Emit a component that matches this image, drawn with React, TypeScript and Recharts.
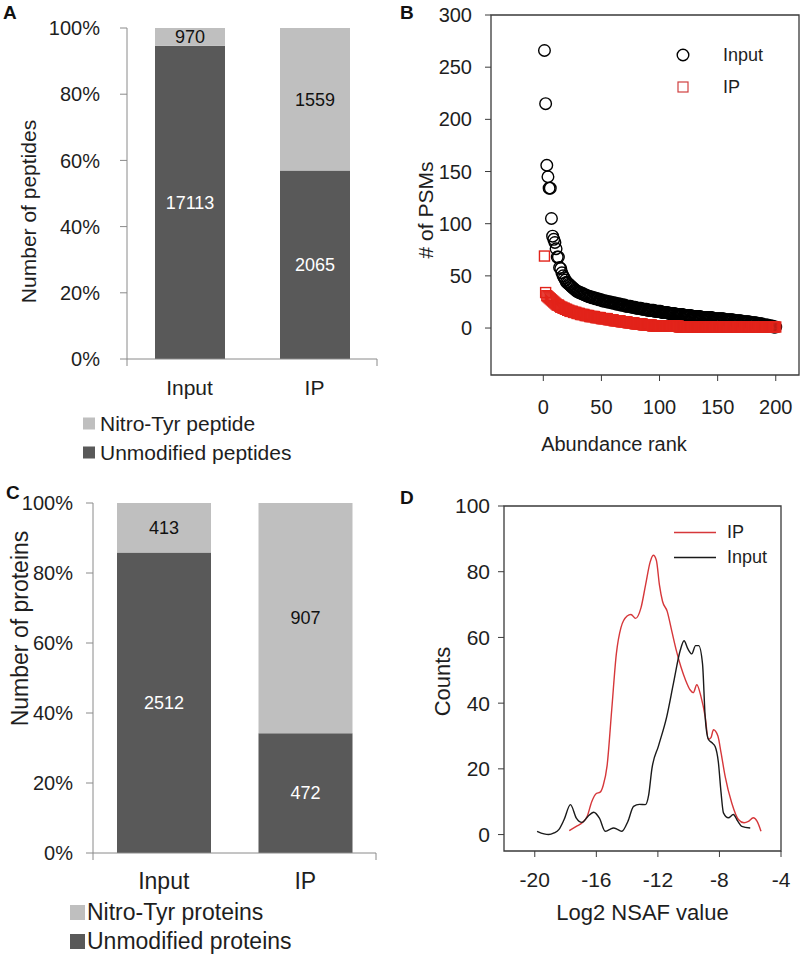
import React from "react";
import {
  Bar,
  BarChart,
  LabelList,
  Legend,
  Line,
  LineChart,
  ReferenceArea,
  Scatter,
  ScatterChart,
  XAxis,
  YAxis,
} from "recharts";

const FONT = '"Liberation Sans", Arial, Helvetica, sans-serif';
const TEXT = "#1e1e1e";
const AXIS_GRAY = "#8a8a8a";
const FRAME = "#3a3a3a";
const LIGHT = "#bfbfbf";
const DARK = "#595959";
const RED = "#e2231a";
const LINE_RED = "#d6373a";

// A / C: stacked percent bars
const groups = ["Input", "IP"];
const peptideNitro = [970, 1559];
const peptideUnmod = [17113, 2065];
const proteinNitro = [413, 907];
const proteinUnmod = [2512, 472];
const percentTicks = [0, 0.2, 0.4, 0.6, 0.8, 1];
const edgeTicks = [0, 1, 2];

// B: PSMs by abundance rank (rank = position + 1)
const inputPsms = [
  266, 215, 156, 145, 134, 134, 105, 88, 85, 82,
  76, 68, 68, 58, 57, 53, 50, 48, 46, 44,
  43, 42, 41, 40, 39, 38, 37, 36, 35, 35,
  34, 34, 33, 33, 32, 32, 31, 31, 30, 30,
  30, 29, 29, 29, 28, 28, 28, 27, 27, 27,
  26, 26, 26, 26, 25, 25, 25, 25, 24, 24,
  24, 24, 23, 23, 23, 23, 22, 22, 22, 22,
  21, 21, 21, 21, 21, 20, 20, 20, 20, 19,
  19, 19, 19, 19, 18, 18, 18, 18, 18, 17,
  17, 17, 17, 17, 17, 16, 16, 16, 16, 16,
  16, 15, 15, 15, 15, 15, 15, 14, 14, 14,
  14, 14, 14, 13, 13, 13, 13, 13, 13, 13,
  12, 12, 12, 12, 12, 12, 12, 11, 11, 11,
  11, 11, 11, 11, 11, 10, 10, 10, 10, 10,
  10, 10, 10, 10, 10, 9, 9, 9, 9, 9,
  9, 9, 9, 9, 9, 8, 8, 8, 8, 8,
  8, 8, 8, 7, 7, 7, 7, 7, 7, 7,
  6, 6, 6, 6, 6, 6, 6, 5, 5, 5,
  5, 5, 5, 4, 4, 4, 4, 4, 3, 3,
  3, 3, 3, 2, 2, 2, 2, 1, 1, 1,
];
const ipPsms = [
  69, 34, 31, 30, 29, 28, 27, 26, 25, 24,
  23, 22, 22, 21, 20, 20, 19, 19, 18, 18,
  17, 17, 16, 16, 16, 15, 15, 15, 14, 14,
  14, 13, 13, 13, 13, 12, 12, 12, 12, 11,
  11, 11, 11, 11, 10, 10, 10, 10, 10, 9,
  9, 9, 9, 9, 9, 8, 8, 8, 8, 8,
  7, 7, 7, 7, 7, 7, 6, 6, 6, 6,
  6, 6, 5, 5, 5, 5, 5, 5, 4, 4,
  4, 4, 4, 4, 4, 3, 3, 3, 3, 3,
  3, 3, 3, 2, 2, 2, 2, 2, 2, 2,
  2, 2, 2, 2, 2, 2, 2, 2, 2, 2,
  2, 2, 2, 2, 2, 2, 1, 1, 1, 1,
  1, 1, 1, 1, 1, 1, 1, 1, 1, 1,
  1, 1, 1, 1, 1, 1, 1, 1, 1, 1,
  1, 1, 1, 1, 1, 1, 1, 1, 1, 1,
  1, 1, 1, 1, 1, 1, 1, 1, 1, 1,
  1, 1, 1, 1, 1, 1, 1, 1, 1, 1,
  1, 1, 1, 1, 1, 1, 1, 1, 1, 1,
  1, 1, 1, 1, 1, 1, 1, 1, 1, 1,
  1, 1, 1, 1, 1, 1, 1, 1, 1, 1,
];
const rankTicks = [0, 50, 100, 150, 200];
const psmTicks = [0, 50, 100, 150, 200, 250, 300];

// D: NSAF distribution
const ipNsafX = [
  -17.76, -17.3, -16.9, -16.6, -16.3, -16.0, -15.75, -15.55, -15.3, -15.0,
  -14.7, -14.4, -14.0, -13.75, -13.45, -13.1, -12.8, -12.5, -12.3, -12.1,
  -11.9, -11.7, -11.4, -11.1, -10.8, -10.5, -10.2, -9.9, -9.7, -9.47,
  -9.2, -8.93, -8.72, -8.55, -8.39, -8.1, -7.9, -7.63, -7.2, -6.77,
  -6.4, -6.12, -5.8, -5.55, -5.3,
];
const ipNsafY = [
  1.2, 2.5, 3.7, 5.5, 10, 12.5, 12.9, 15, 21, 38,
  55, 63, 66.5, 67, 65.8, 69, 76, 83, 85, 83.5,
  76, 71, 68, 62, 56, 51, 47, 44, 43.2, 45.6,
  42, 36, 29, 29.5, 31.9, 30, 25, 17.7, 9.6, 4.6,
  3.6, 4, 5.1, 4, 1,
];
const inputNsafX = [
  -19.85, -19.4, -19.1, -18.75, -18.44, -18.1, -17.68, -17.3, -16.93, -16.55,
  -16.17, -15.8, -15.42, -15.15, -14.88, -14.6, -14.34, -13.95, -13.58, -13.2,
  -12.82, -12.6, -12.39, -11.96, -11.42, -10.99, -10.55, -10.3, -10.05, -9.8,
  -9.55, -9.35, -9.1, -8.93, -8.72, -8.5, -8.28, -8.07, -7.9, -7.74,
  -7.42, -7.1, -6.8, -6.55, -6.0,
];
const inputNsafY = [
  1, 0.2, 0, 0.5, 1.5, 4.5, 9.1, 5, 3.7, 5.5,
  6.8, 5, 1, 1.5, 2, 1.5, 1, 4, 8.6, 9.2,
  9.1, 12, 20, 27, 36, 46, 56, 59, 56.5, 55,
  57.5, 57.5, 52, 36, 29, 28, 26.8, 22, 13, 6.6,
  5.1, 6.1, 4, 2.5, 2,
];
const nsafTicks = [-20, -16, -12, -8, -4];
const countTicks = [0, 20, 40, 60, 80, 100];

function AxisTitle(props: any) {
  const { viewBox, title, vert, shiftX = 0, shiftY = 0, size = 20 } = props;
  const vb = viewBox || { x: 0, y: 0, width: 0, height: 0 };
  if (vert) {
    const x = vb.x + shiftX;
    const y = vb.y + vb.height / 2 + shiftY;
    return (
      <text x={x} y={y} transform={`rotate(-90 ${x} ${y})`} textAnchor="middle"
        dominantBaseline="central" fontSize={size} fill={TEXT}>
        {title}
      </text>
    );
  }
  const x = vb.x + vb.width / 2 + shiftX;
  const y = vb.y + shiftY;
  return (
    <text x={x} y={y} textAnchor="middle" dominantBaseline="central" fontSize={size} fill={TEXT}>
      {title}
    </text>
  );
}

function LegendRows(props: any) {
  const { names, icon, rowHeight, iconWidth, gap, size } = props;
  return (
    <div style={{ fontSize: size, color: TEXT, lineHeight: 1, whiteSpace: "nowrap" }}>
      {names.map((name: string) => (
        <div key={name} style={{ display: "flex", alignItems: "center", height: rowHeight }}>
          <svg width={iconWidth} height={rowHeight} style={{ display: "block" }}>
            {icon(name, iconWidth, rowHeight)}
          </svg>
          <span style={{ marginLeft: gap }}>{name}</span>
        </div>
      ))}
    </div>
  );
}

function StackedPanel(props: any) {
  const {
    nitro, unmod, nitroName, unmodName, yTitle, width, height, margin,
    yWidth, barSize, tickSize, yTickMargin, catMargin, catSize, tickFont,
    titleX, titleY, titleSize, legendLeft, legendTop, swatch, swatchGap, legendSize,
  } = props;
  const data = groups.map((g, i) => ({ group: g, nitro: nitro[i], unmod: unmod[i] }));
  const colors: Record<string, string> = { [nitroName]: LIGHT, [unmodName]: DARK };
  return (
    <BarChart width={width} height={height} data={data} margin={margin} stackOffset="expand">
      <XAxis xAxisId="a_edge" type="number" domain={[0, 2]} ticks={edgeTicks} allowDataOverflow
        height={1} tickSize={tickSize} tickFormatter={() => ""} stroke={AXIS_GRAY} />
      <XAxis xAxisId="b_cat" dataKey="group" height={49} tickSize={0} tickMargin={catMargin - 1}
        axisLine={false} tickLine={false} tick={{ fill: TEXT, fontSize: catSize }} />
      <YAxis width={yWidth} ticks={percentTicks} domain={[0, 1]} tickSize={tickSize}
        tickMargin={yTickMargin} stroke={AXIS_GRAY}
        tickFormatter={(v: number) => `${Math.round(v * 100)}%`}
        tick={{ fill: TEXT, fontSize: tickFont }}
        label={<AxisTitle title={yTitle} vert shiftX={titleX} shiftY={titleY} size={titleSize} />} />
      <Bar xAxisId="b_cat" dataKey="unmod" stackId="s" name={unmodName} fill={DARK}
        barSize={barSize} isAnimationActive={false}>
        <LabelList dataKey="unmod" position="center" fill="#ffffff" fontSize={18} />
      </Bar>
      <Bar xAxisId="b_cat" dataKey="nitro" stackId="s" name={nitroName} fill={LIGHT}
        barSize={barSize} isAnimationActive={false}>
        <LabelList dataKey="nitro" position="center" fill="#111111" fontSize={18} />
      </Bar>
      <Legend layout="vertical" align="center" verticalAlign="middle"
        wrapperStyle={{ left: legendLeft, top: legendTop }}
        content={() => (
          <LegendRows names={[nitroName, unmodName]} rowHeight={29} iconWidth={swatch}
            gap={swatchGap} size={legendSize}
            icon={(name: string, w: number, h: number) => (
              <rect x={0} y={(h - swatch) / 2} width={w} height={swatch} fill={colors[name]} />
            )} />
        )} />
    </BarChart>
  );
}

function PsmPanel() {
  const inputData = inputPsms.map((v, i) => ({ rank: i + 1, psms: v }));
  const ipData = ipPsms.map((v, i) => ({ rank: i + 1, psms: v }));
  return (
    <ScatterChart width={400} height={470} margin={{ top: 15, right: 1, bottom: 15, left: 0 }}>
      <XAxis type="number" dataKey="rank" domain={[-45, 220]} ticks={rankTicks} allowDataOverflow
        height={80} tickSize={6} tickMargin={19} axisLine={false} stroke={FRAME}
        tick={{ fill: TEXT, fontSize: 20 }}
        label={<AxisTitle title="Abundance rank" shiftX={-31} shiftY={69} size={20} />} />
      <YAxis type="number" dataKey="psms" domain={[-45, 300]} ticks={psmTicks} allowDataOverflow
        width={91} tickSize={6} tickMargin={13} axisLine={false} stroke={FRAME}
        tick={{ fill: TEXT, fontSize: 20 }}
        label={<AxisTitle title="# of PSMs" vert shiftX={25} shiftY={15} size={21} />} />
      <ReferenceArea x1={-45} x2={220} y1={-45} y2={300} fill="none" stroke={FRAME} strokeWidth={1.3} />
      <Scatter name="Input" data={inputData} isAnimationActive={false}
        shape={(p: any) => (
          <circle cx={p.cx} cy={p.cy} r={5.8} fill="none" stroke="#000" strokeWidth={1.4} />
        )} />
      <Scatter name="IP" data={ipData} isAnimationActive={false}
        shape={(p: any) => (
          <rect x={p.cx - 5} y={p.cy - 5} width={10} height={10} fill="none" stroke={RED} strokeWidth={1.4} />
        )} />
      <Legend layout="vertical" align="center" verticalAlign="middle"
        wrapperStyle={{ left: 276, top: 39 }}
        content={() => (
          <LegendRows names={["Input", "IP"]} rowHeight={32} iconWidth={14} gap={33} size={18}
            icon={(name: string, w: number, h: number) =>
              name === "Input" ? (
                <circle cx={w / 2} cy={h / 2} r={5.8} fill="none" stroke="#000" strokeWidth={1.4} />
              ) : (
                <rect x={w / 2 - 5} y={h / 2 - 5} width={10} height={10} fill="none" stroke="#d04040" strokeWidth={1.2} />
              )
            } />
        )} />
    </ScatterChart>
  );
}

function NsafPanel() {
  const ipData = ipNsafX.map((x, i) => ({ nsaf: x, count: ipNsafY[i] }));
  const inputData = inputNsafX.map((x, i) => ({ nsaf: x, count: inputNsafY[i] }));
  const lineColors: Record<string, string> = { IP: LINE_RED, Input: "#1a1a1a" };
  return (
    <LineChart width={400} height={485} margin={{ top: 36, right: 19, bottom: 24, left: 0 }}>
      <XAxis type="number" dataKey="nsaf" domain={[-22, -4]} ticks={nsafTicks} allowDataOverflow
        height={80} tickSize={6} tickMargin={15} axisLine={false} stroke={FRAME}
        tick={{ fill: TEXT, fontSize: 21 }}
        label={<AxisTitle title="Log2 NSAF value" shiftY={61} size={22} />} />
      <YAxis type="number" domain={[-5, 100]} ticks={countTicks} allowDataOverflow
        width={104} tickSize={6} tickMargin={8} axisLine={false} stroke={FRAME}
        tick={{ fill: TEXT, fontSize: 21 }}
        label={<AxisTitle title="Counts" vert shiftX={42} shiftY={3} size={22} />} />
      <ReferenceArea x1={-22} x2={-4} y1={-5} y2={100} fill="none" stroke={FRAME} strokeWidth={1.3} />
      <Line name="IP" data={ipData} dataKey="count" type="monotone" stroke={LINE_RED}
        strokeWidth={1.4} dot={false} isAnimationActive={false} />
      <Line name="Input" data={inputData} dataKey="count" type="monotone" stroke="#1a1a1a"
        strokeWidth={1.4} dot={false} isAnimationActive={false} />
      <Legend layout="vertical" align="center" verticalAlign="middle"
        wrapperStyle={{ left: 274, top: 49.5 }}
        content={() => (
          <LegendRows names={["IP", "Input"]} rowHeight={25} iconWidth={42} gap={11} size={18}
            icon={(name: string, w: number, h: number) => (
              <line x1={0} x2={w} y1={h / 2} y2={h / 2} stroke={lineColors[name]} strokeWidth={1.4} />
            )} />
        )} />
    </LineChart>
  );
}

function PanelLetter({ letter, left, top }: { letter: string; left: number; top: number }) {
  return (
    <div style={{ position: "absolute", left, top, fontSize: 19, fontWeight: "bold", lineHeight: "19px", color: "#111" }}>
      {letter}
    </div>
  );
}

export default function App() {
  return (
    <div style={{ position: "absolute", left: 0, top: 0, width: 800, height: 955, background: "#fff", fontFamily: FONT, color: TEXT }}>
      <div style={{ position: "absolute", left: 0, top: 0 }}>
        <StackedPanel nitro={peptideNitro} unmod={peptideUnmod} nitroName="Nitro-Tyr peptide"
          unmodName="Unmodified peptides" yTitle="Number of peptides" width={400} height={470}
          margin={{ top: 28, right: 23, bottom: 61, left: 0 }} yWidth={127} barSize={70}
          tickSize={7} yTickMargin={20} catMargin={21} catSize={21} tickFont={20}
          titleX={28} titleY={18} titleSize={21} legendLeft={83} legendTop={408.5}
          swatch={12} swatchGap={5} legendSize={21} />
      </div>
      <div style={{ position: "absolute", left: 400, top: 0 }}>
        <PsmPanel />
      </div>
      <div style={{ position: "absolute", left: 0, top: 480 }}>
        <StackedPanel nitro={proteinNitro} unmod={proteinUnmod} nitroName="Nitro-Tyr proteins"
          unmodName="Unmodified proteins" yTitle="Number of proteins" width={400} height={475}
          margin={{ top: 23, right: 24, bottom: 52, left: 0 }} yWidth={93} barSize={94}
          tickSize={7} yTickMargin={13} catMargin={20} catSize={23} tickFont={20}
          titleX={20} titleY={-49.5} titleSize={23} legendLeft={70} legendTop={417.5}
          swatch={15} swatchGap={2} legendSize={23} />
      </div>
      <div style={{ position: "absolute", left: 400, top: 470 }}>
        <NsafPanel />
      </div>
      <PanelLetter letter="A" left={3} top={3} />
      <PanelLetter letter="B" left={400} top={3} />
      <PanelLetter letter="C" left={6} top={483} />
      <PanelLetter letter="D" left={400} top={488} />
    </div>
  );
}
